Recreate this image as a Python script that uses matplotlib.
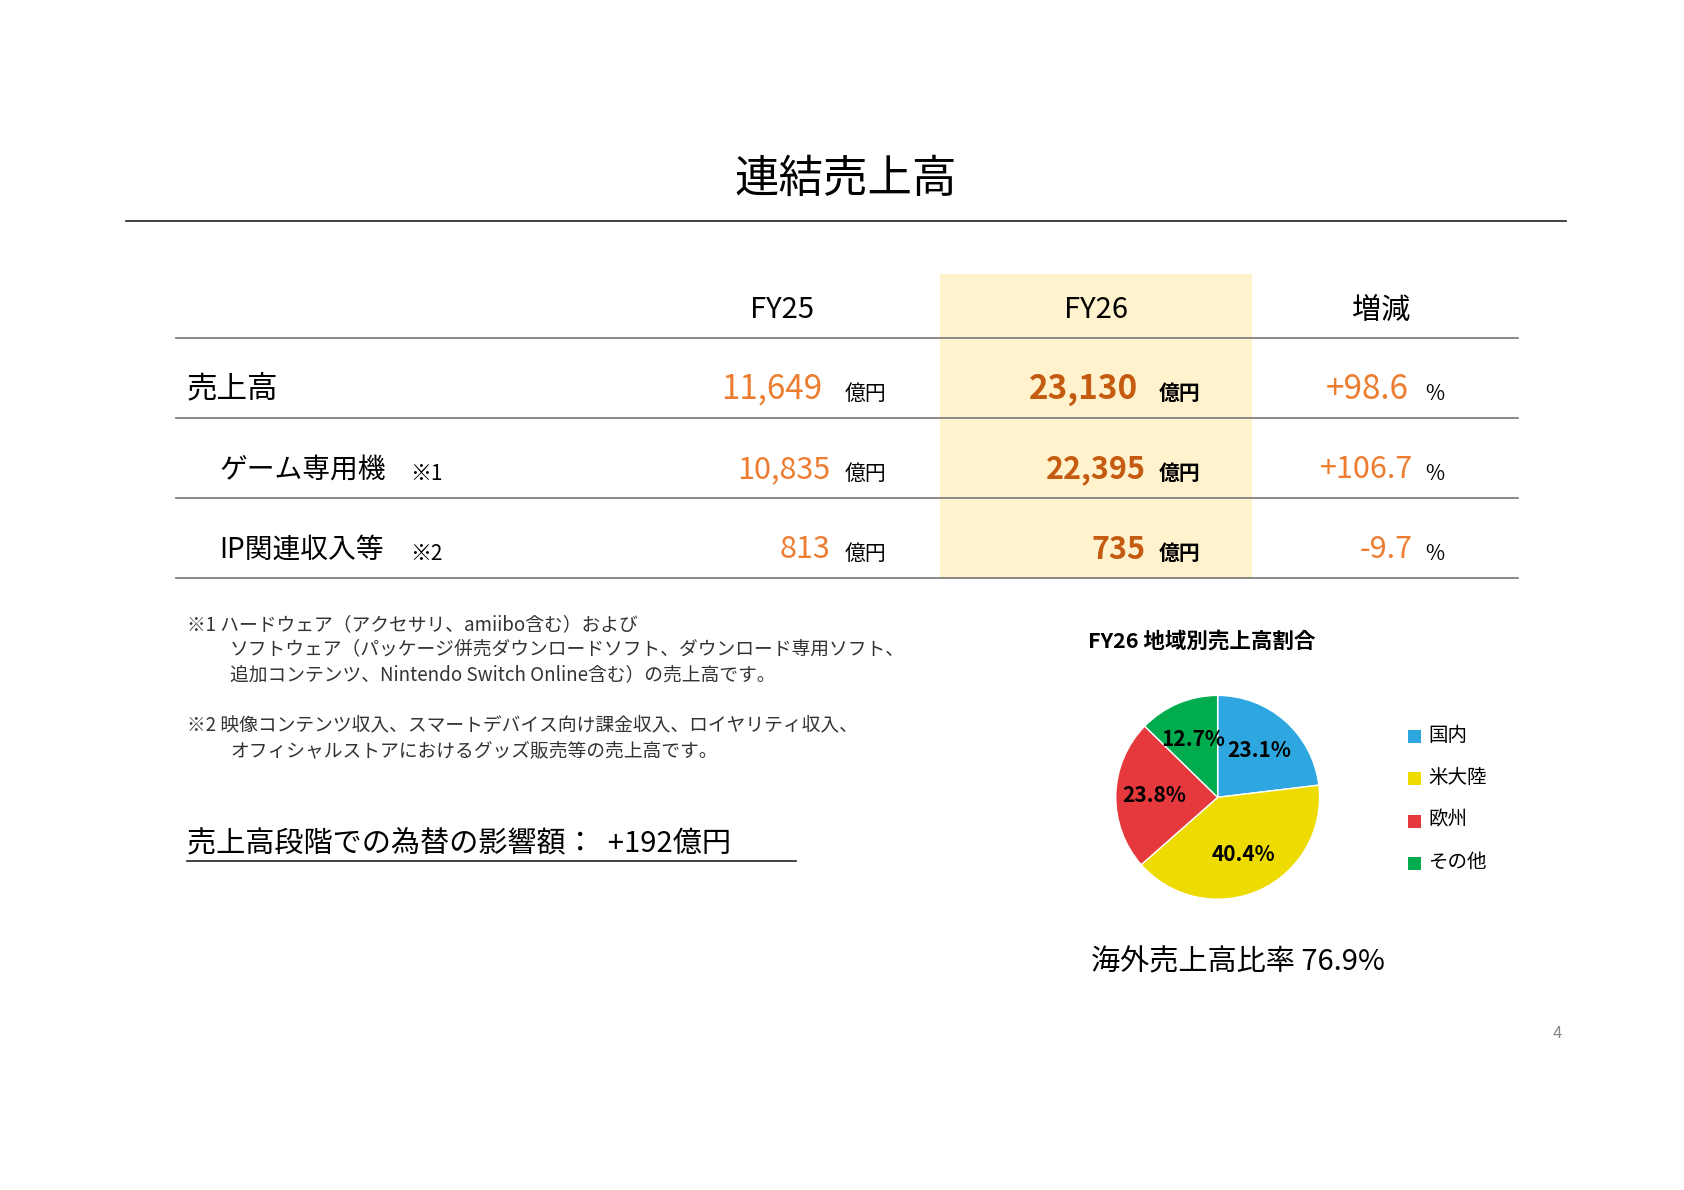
import matplotlib
matplotlib.use("Agg")
import matplotlib.pyplot as plt
from matplotlib.patches import Rectangle
from matplotlib.lines import Line2D

plt.rcParams['font.family'] = ['Noto Sans CJK JP', 'DejaVu Sans']

W, H = 1560.0, 1100.0
row_labels = ["売上高", "ゲーム専用機※1", "IP関連収入等※2"]
fy25 = ["11,649", "10,835", "813"]
fy26 = ["23,130", "22,395", "735"]
change = ["+98.6", "+106.7", "-9.7"]
regions = ["国内", "米大陸", "欧州", "その他"]
shares = [23.1, 40.4, 23.8, 12.7]
colors = ["#2EA7E0", "#EEDC00", "#E6393E", "#00AC4E"]

fig = plt.figure(figsize=(16.84, 11.9), dpi=100)
fig.patch.set_facecolor("white")
ORG = "#ED7D31"
DORG = "#C55A11"

def t(x, y, s, **kw):
    fig.text(x / W, 1 - y / H, s, **kw)

def hline(x0, x1, y, color="#555555", lw=1.0):
    fig.add_artist(Line2D([x0 / W, x1 / W], [1 - y / H, 1 - y / H], color=color, lw=lw, transform=fig.transFigure))

t(783, 165, "連結売上高", fontsize=32, ha="center", va="center")
hline(117, 1451, 204, color="#222222", lw=1.2)

fig.add_artist(Rectangle((871 / W, 1 - 535 / H), (1160 - 871) / W, (535 - 253) / H,
                         transform=fig.transFigure, facecolor="#FFF2CC", edgecolor="none", zorder=0))

t(724, 287, "FY25", fontsize=21, ha="center", va="center")
t(1015, 287, "FY26", fontsize=21, ha="center", va="center")
t(1279, 287, "増減", fontsize=21, ha="center", va="center")
for y in [312, 386, 460, 534]:
    hline(163, 1406, y, color="#808080", lw=1.3)

ys = [360, 434, 508]
lx = [173, 203, 203]
big = [True, False, False]
for i in range(3):
    y = ys[i]
    fs = 24 if big[i] else 22
    t(lx[i], y, row_labels[i].replace("※1", "").replace("※2", ""), fontsize=22 if big[i] else 20, ha="left", va="center")
    if "※" in row_labels[i]:
        pass
    t(762 if big[i] else 769, y, fy25[i], fontsize=fs, color=ORG, ha="right", va="center")
    t(782, y + 4, "億円", fontsize=15, ha="left", va="center")
    t(1054 if big[i] else 1061, y, fy26[i], fontsize=fs, color=DORG, ha="right", va="center", fontweight="bold")
    t(1073, y + 4, "億円", fontsize=15, ha="left", va="center", fontweight="bold")
    t(1305 if big[i] else 1309, y, change[i], fontsize=fs, color=ORG, ha="right", va="center")
    t(1320, y + 4, "%", fontsize=15, ha="left", va="center")
t(380, 438, "※1", fontsize=15, ha="left", va="center")
t(380, 512, "※2", fontsize=15, ha="left", va="center")

nfs = 13.5
t(173, 577, "※1 ハードウェア（アクセサリ、amiibo含む）および", fontsize=nfs, va="center", color="#333333")
t(213, 600, "ソフトウェア（パッケージ併売ダウンロードソフト、ダウンロード専用ソフト、", fontsize=nfs, va="center", color="#333333")
t(213, 624, "追加コンテンツ、Nintendo Switch Online含む）の売上高です。", fontsize=nfs, va="center", color="#333333")
t(173, 670, "※2 映像コンテンツ収入、スマートデバイス向け課金収入、ロイヤリティ収入、", fontsize=nfs, va="center", color="#333333")
t(213, 694, "オフィシャルストアにおけるグッズ販売等の売上高です。", fontsize=nfs, va="center", color="#333333")

t(173, 780, "売上高段階での為替の影響額：  +192億円", fontsize=21, va="center")
hline(173, 737, 796, color="#222222", lw=1.2)

t(1113, 593, "FY26 地域別売上高割合", fontsize=15.5, fontweight="bold", ha="center", va="center")

cx, cy, r = 1128, 737, 118
ax = fig.add_axes([(cx - r) / W, 1 - (cy + r) / H, 2 * r / W, 2 * r / H])
wedges, texts, autotexts = ax.pie(shares, colors=colors, startangle=90, counterclock=False,
                                  autopct=lambda p: f"{p:.1f}%", pctdistance=0.62,
                                  wedgeprops=dict(edgecolor="white", linewidth=1))
for a in autotexts:
    a.set_fontsize(15)
    a.set_fontweight("bold")
ax.set_aspect("equal")
ax.axis("off")

for i, (reg, c) in enumerate(zip(regions, colors)):
    y = 680 + 39 * i
    fig.add_artist(Rectangle((1304 / W, 1 - (y + 7) / H), 12 / W, 12 / H, transform=fig.transFigure,
                             facecolor=c, edgecolor="none"))
    t(1323, y, reg, fontsize=14, va="center")

t(1147, 890, "海外売上高比率 76.9%", fontsize=21, ha="center", va="center")
t(1443, 955, "4", fontsize=12, ha="center", va="center", color="#888888")

fig.savefig("out.png", dpi=100)
